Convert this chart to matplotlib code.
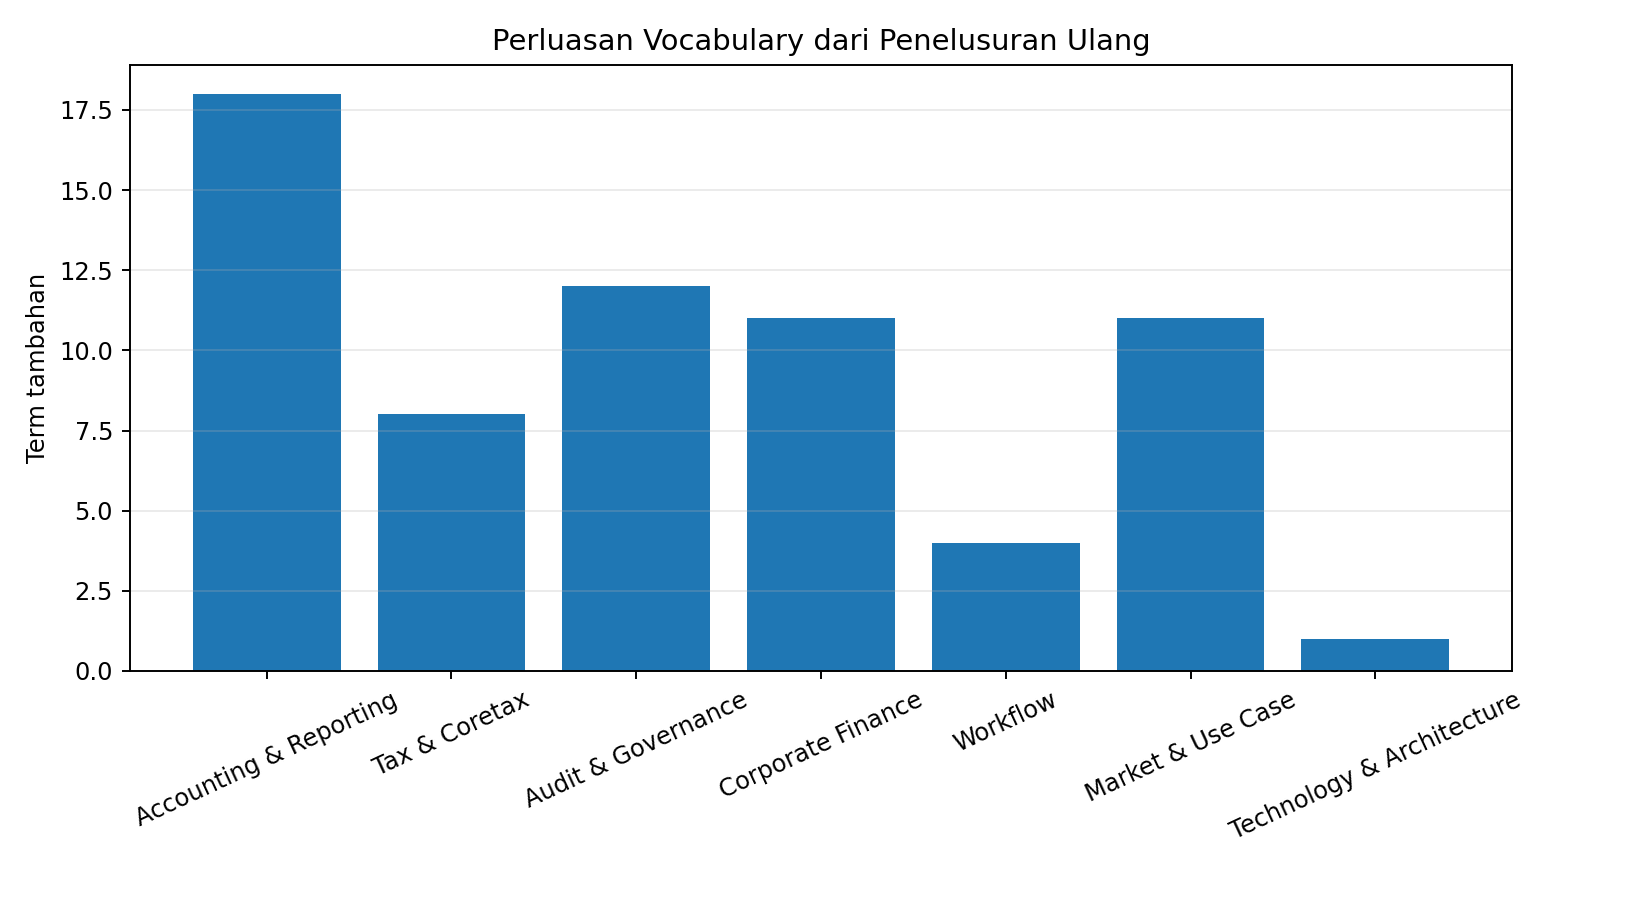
import matplotlib
matplotlib.use("Agg")
import matplotlib.pyplot as plt

kategori = ["Accounting & Reporting", "Tax & Coretax", "Audit & Governance",
            "Corporate Finance", "Workflow", "Market & Use Case",
            "Technology & Architecture"]
term_tambahan = [18, 8, 12, 11, 4, 11, 1]

dpi = 174
fig = plt.figure(figsize=(1628 / dpi, 904 / dpi), dpi=dpi)
ax = fig.add_axes([130 / 1628, 1 - 671 / 904, (1512 - 130) / 1628, (671 - 65) / 904])

ax.bar(kategori, term_tambahan, color="#1f77b4")
ax.set_title("Perluasan Vocabulary dari Penelusuran Ulang")
ax.set_ylabel("Term tambahan")
ax.grid(axis="y", alpha=0.25)
ax.tick_params(axis="x", labelrotation=25)

fig.savefig("out.png", dpi=dpi)
